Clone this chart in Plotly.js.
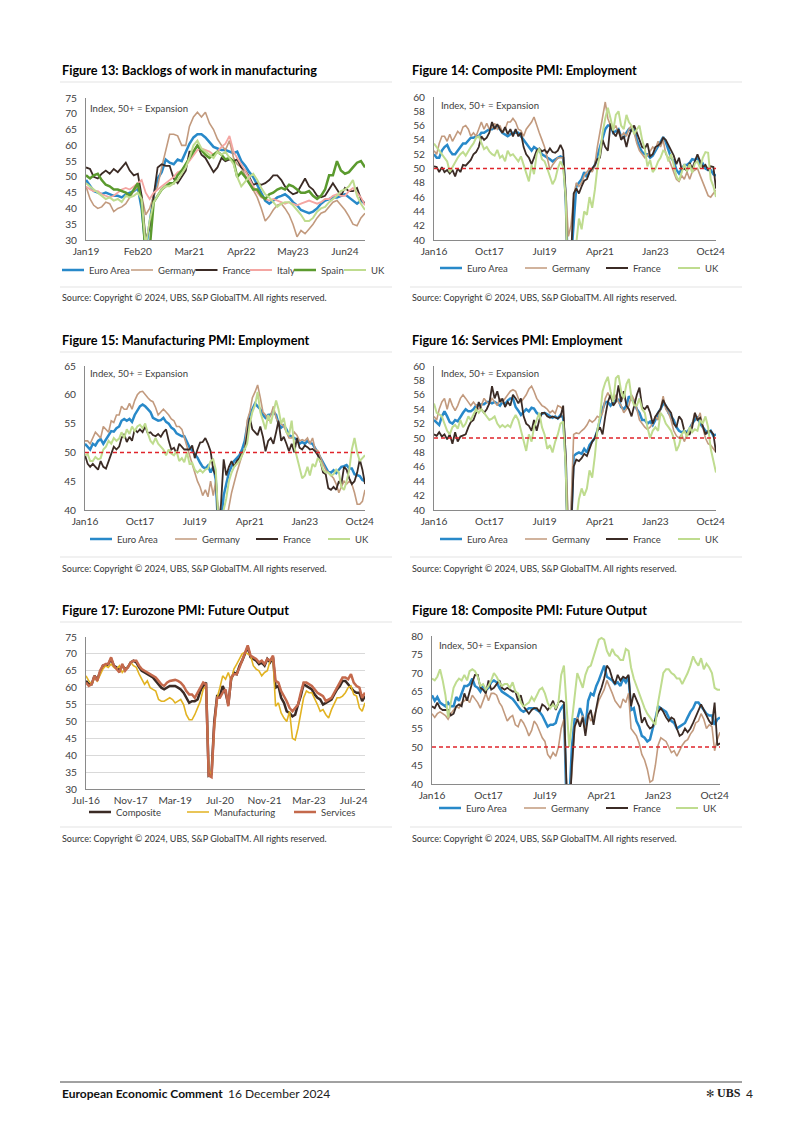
<!DOCTYPE html>
<html><head><meta charset="utf-8">
<script src="https://cdn.plot.ly/plotly-3.0.1.min.js"></script>
<style>html,body{margin:0;padding:0;background:#fff;}#page{width:802px;height:1134px;}</style>
</head><body><div id="page"></div>
<script>
// ---------------- DATA ----------------
// Figure 13: Backlogs of work in manufacturing (monthly from Jan 2019)
const fig13Start = [2019, 1];
const fig13TickDates = ['2019-01-01','2020-02-01','2021-03-01','2022-04-01','2023-05-01','2024-06-01'];
const fig13TickText = ['Jan19','Feb20','Mar21','Apr22','May23','Jun24'];
const bl_EA = [49,47,45.5,45,44.5,45,44.5,44,44,43.5,44.5,45,
  45.5,46.5,40,27,35,44,49.5,51.5,55.5,54.5,54,55.5,
  55,58,60.5,62.5,63.5,63.5,62.5,61,59.5,59,58.5,58.5,
  58,57.5,58,55,53.5,51.5,50,47.5,45,42.5,41.5,42.5,
  43.5,44,44.5,43.5,42,41,39.5,39,38.5,39,40,41.5,
  42.5,43,43.5,43.5,44,44.5,43.5,42.5,41.5,42.5,41.5];
const bl_DE = [47,43,41,40,40.5,42,41.5,39,40,40.5,41.5,43.5,
  45.5,47,44,38,40,44,47,53,58,63.5,63.5,63,
  60,60,66,69,70.5,69,70.5,67,65,62,60,58.5,
  61.5,56,54,53,50.5,48,46,43.5,40,36,37.5,39.5,
  41,41.5,40,38,35,31,33,32,33.5,35,37,38.5,
  39,40.5,42,42.5,41,39.5,37.5,35,34.5,37,38.5];
const bl_FR = [53,52.5,50,49.5,51,52,51,52.5,51.5,53,54.5,52,
  50.5,51,44,30,34,44,53,54,53.5,53.5,49.5,48,
  50,52,58,58,60,57,56,53.5,51.5,53,56,55,
  55.5,55,55.5,53,52,50,47.5,48,47.5,48,49,50.5,
  50.5,49,47,45.5,44.5,45,47,49.5,47,46,44,43.5,
  44,46,48,46,44,46.5,45.5,45.5,46.5,43,41.5];
const bl_IT = [47,46,45.5,45.5,44.5,44,43.5,44,45,46,46.5,46,
  47,48,49,45,43,45,46,47,48,49,50,51.5,
  52,53.5,55,57,58.5,59,58.5,58,57,58,59.5,60.5,
  63,58,56,54,52,49.5,47,45,43.5,43,42.5,43,
  42.5,42,41.5,42,41.5,41,41.5,42,42.5,42,41.5,42,
  43,43,44,44.5,44,44,45.5,46.5,45,43.5,41];
const bl_ES = [50.5,49.5,50.5,51,49,47.5,47,46,46,45.5,45,44,
  46,48,42,25,27,42,44,46,47,48,48,50.5,
  52,54,56,58,60,58.5,57,56,57,58,57,55.5,
  56,55,50,51.5,50,48,46,46,44,43,44.5,45,
  46,46.5,46,47.5,47,46,45,45,45.5,44,43,44,
  46,50.5,50.5,55,52,51,51.5,53,54.5,55,53];
const bl_UK = [48,47,46,45,44,43,43.5,42.5,43,42,44,43.5,
  44,45,43,28,36,42,44,46,47,47,48,49,
  51,53,56,60,61.5,59,58,57,56,58,57,58,
  56,54,50,47,48.5,50,51,49,46.5,44.5,43.5,42,
  40.5,41.5,42,42,41,39.5,38,36,36,37,39,40,
  40.5,42,43,44,45.5,46,47,49,44,41.5,39.5];

// Common x ticks for Figures 14, 15, 16, 18 (monthly from Jan 2016)
const empStart = [2016, 1];
const empTickDates = ['2016-01-01','2017-10-01','2019-07-01','2021-04-01','2023-01-01','2024-10-01'];
const empTickText = ['Jan16','Oct17','Jul19','Apr21','Jan23','Oct24'];

// Figure 14: Composite PMI: Employment
const ce_EA = [52,51.5,51.5,52.5,53,53.3,52.5,52,52,52.5,53,53.5,
  53.5,54,54.3,54.3,54.5,54.5,55,55,55.3,55.5,55.5,55.8,
  55.8,55.5,55,54.8,54.5,54.8,55,55,55,54.5,54,53.5,
  53,52.5,53,52.7,52.5,52,51.8,51.5,51.3,51,51.3,51.5,
  51.7,51.5,46,33,37,43,47.5,48,48.5,49.5,48.8,49.6,
  49.8,50.5,51.7,53,54,55.5,56,56,55,55.2,55.5,54.5,
  54.3,55,55.5,55.3,55.5,54,53,52.3,52,52,51.5,51.8,
  52.5,53.2,53.8,54.4,53.7,52.7,51.5,51,49.8,49.3,50,50.5,
  50.5,50.8,51.3,51.2,51.5,50.5,50.7,50,49.8,49.8,49.2,49];
const ce_DE = [52.5,52,53.5,54.5,54.5,53.8,54.8,53.8,54.5,55.2,54.8,55.8,
  56,55.5,54.5,55,54.5,55.5,56.5,55.5,56.3,55.5,55.7,56.3,
  55.5,56,55,55.5,56.5,56.5,57,56.5,55.5,55.3,54.5,55.5,
  56,56.5,57.2,56,55,54,53,51.5,49.8,50.5,51,51.5,
  51.5,51.5,47,40.5,42,46,48,47.5,48,49,49.5,50,
  49.5,50.5,53,55,57,59.3,57,56,55.5,56,55,54.5,
  55,54.5,55.5,56,55,53.5,52.5,52,51.5,51.8,52.5,53,
  52.7,53.8,53,54,52,51.5,50.5,49.5,48.5,48.2,49,48.5,
  49.5,48.5,49.5,49.8,50,49,48,47,46.2,46,46.5,47];
const ce_FR = [50.3,50.2,49.5,50.2,49.5,49.8,49.3,49.8,48.9,50,49.5,50.5,
  50.4,50.8,51.2,52,52.3,53,54.5,54,54.3,55,56.5,55.5,
  56.2,55.5,55,55.8,54.8,55.5,54.5,55.5,54.5,55,53,52,
  51.5,50.6,51.5,52.5,52.8,52.4,52.6,52.2,52.8,52.3,52.2,52.5,
  53.3,52.5,46,30,37,46.5,47.2,46.5,47.5,48.3,48.5,49.5,
  50,50.5,51.3,51.5,54,53,52.5,56.3,55,54.5,55.5,54,
  54.5,53,54.5,55.5,56,55,54.2,53,52.8,53.5,51.7,52,
  53,53.2,53.5,54.3,54,53.3,52.5,51.8,50.6,51.5,49.8,50,
  49.7,50.8,50,51,52,51,50.2,50.5,49.8,50.3,50.2,47.2];
const ce_UK = [53.5,53,52.5,52,51.5,51,49.5,50.2,51,51.5,52,52.3,
  51.8,52.5,53,53.5,54.3,54.5,53.7,52.7,53,52.4,52,51.8,
  52.6,51.5,51.8,51,52.5,51.8,52,51.5,51,51.7,50.5,49.5,
  48.2,50.5,49.2,52,52.8,51.3,51,50,49,47.8,48.5,50,
  51,50.2,46,30,33,37,39.5,43,41.5,44,43.5,46,
  44.5,47,50,52,55,57,58.5,57,55.3,57.5,58,56,
  55.5,57.5,56.5,56,54.8,55.5,56,54,52.7,50.3,51.2,49.5,
  50,51,51.5,52.5,52.3,51,52,50.5,48.9,48.3,49.5,50.6,
  49.6,50.6,49.4,50.7,51,50,51.5,52.3,52.2,48.5,47.5,46];

// Figure 15: Manufacturing PMI: Employment
const me_EA = [51.5,51,50.5,51.5,51.2,52,52.3,51.5,52.2,52.8,53.7,53.6,
  54.2,54.5,55.5,55.8,55.5,55.8,55.3,56.5,57.3,58,58.3,58,
  57.5,57,56,55.8,55.5,55.6,56,55.3,55,54.3,54,53.3,
  53,52.8,52.8,51.7,50.9,50.3,49.8,49.1,48.2,47.5,47.2,47.7,
  46.5,47.5,45.3,36,38,42.5,44.5,46.5,47.6,48.5,49,49.5,
  50.5,52,54.5,56.5,57.5,58.5,58,57.5,56.5,56,56.5,56.6,
  57,56.5,55,54.3,54.7,54,53,52.8,52.5,52.2,51.5,51.8,
  51.5,52,51.6,51.5,50.6,49.9,49.1,48.2,47.4,46.6,46.5,46.9,
  46.4,47,47.5,47.6,47.8,47.2,47.2,46.2,46,45.9,45.2,45];
const me_DE = [52,52,51.5,52.5,53.5,53,52.5,54.5,54,53.5,55.5,55.2,
  56.5,56.5,58,57.5,57.5,58.5,57.5,59,60,60.5,60.6,60,
  59.5,59,58.8,57.8,56.5,57,57.5,57,56.5,55.8,55.5,54.5,
  54.5,54,52.5,51,49.5,48,46.5,45,44,42.5,43.5,42.3,
  45,42.5,45,37,34,35,38,40.5,43,45,46.5,48,
  49.5,50.5,55.5,57,59.5,60.5,61.7,59.5,57,56.5,55.5,56.5,
  58,56,55,55,54.5,53.5,52.5,52.5,53.5,53,52,52.2,
  52,52.5,51.5,52.5,50.5,50.3,49,48,47,46.5,46,45.5,
  44.5,43,44,45,44.5,45,44.5,43,41,41,41.5,43.5];
const me_FR = [49.5,48,47.5,48,47.5,47,48.5,47.5,47.2,48.5,49.5,51,
  50.5,51,52.5,53.2,51.8,52.7,52,54,53.5,54,53.5,54.5,
  53.3,53.5,53,52.8,53.2,52.7,53.5,54,52,50.5,50.8,49.8,
  51.5,51,50.5,50.5,50.5,51.2,49,50.5,51.7,51.8,52.5,51.5,
  50.2,47,46,37,41,48.8,46,47.5,48.5,47.5,48.5,49,
  50,50.5,53,56,54,53.5,53,54.5,52.7,50.2,52,52.5,
  51.5,53.5,55.5,52,52.7,51.5,50.2,51.5,50,52.5,50.8,50.5,
  51.2,50.9,50.5,50.6,50.2,49.5,48.5,46.5,46.2,43.8,43.5,44,
  43.5,45,44.5,47.5,47,45.5,44.5,45,46.5,48.8,47,44.5];
const me_UK = [49.5,49.7,48.5,48.5,49.2,48.8,49,50.5,51,52,51.5,52.5,
  52,52.4,53.5,52.5,54,53.2,54.5,53.7,54.5,54.8,54.2,55,
  53.3,52,51.5,52.5,51.5,51,50.5,49.5,50.5,49.8,49.5,50.2,
  48.5,49,48.3,50,48,48.2,47,46.5,47,46.5,47,47.2,
  48.5,48.8,47,38,37,40,42,45,46.5,47.5,48,48.5,
  49.5,50.5,51.5,55,57,58.2,60.5,57,55.5,54,56.5,55,
  57,59,57.5,55,56,53.5,53,55.5,51,49,47,45.5,
  46,47.5,46,48,47.5,49,48.5,47,46.5,46.5,46,46.2,
  47,46.5,44,43.5,45,47,50.5,52.5,50,48.5,49,49.5];

// Figure 16: Services PMI: Employment
const se_EA = [52.5,52.2,51.8,53,53.7,53,52.2,52,52.5,52.3,53,53.5,
  54,53.7,53.7,54,54.5,54.5,54.7,54.7,55,55,54.8,55,
  54.8,54.5,55,54.7,55.2,55.5,55.5,54.3,53.8,53.2,53.6,54,
  53.7,54.2,54.1,53.5,53.2,53.3,53.5,53.3,53,52.8,53,52.7,
  53.2,52.8,47,33,37,47.5,47.8,48,47.8,48.5,48,49,
  49.5,50,51,52.5,54,55,55,54.5,55,55.2,55.3,54.3,
  54,54.5,55.8,55.4,55,54,53.5,52.5,52.5,52,52.3,51.8,
  52.5,53.5,54,54.8,54.5,53.5,53,52.5,51.5,51,50.8,51,
  50.8,51.3,52,52.5,53,52,51.5,51,50.7,51,50.3,50.5];
const se_DE = [53,52.5,54,55,55.5,54,55.5,54.5,53.8,54.5,55.5,56,
  55.5,55,54.5,55,54.5,54,54.5,55.5,55,54.8,55.5,55,
  54.5,55.5,55,55.5,56,56.5,56.7,56.5,55.5,55,55.5,56,
  56.8,57.2,56.5,55.5,55,54.5,54.3,54,53.5,53.8,53.4,54.5,
  54.3,54,48,38,40,50.5,50.7,50.6,51,51.3,51.8,52.5,
  52.2,52.5,53,52.8,53.5,55.5,56.3,55.5,55.2,56,55,54.5,
  53.5,54,54.5,56,55.3,54,52.5,52,51.5,51.2,51.5,52,
  53,52.5,54,55.8,54,53.5,52.5,51,50.3,50,50.5,49.5,
  50.5,51,52,53.5,52.5,53.5,51.5,50,49.2,49,48.5,48];
const se_FR = [50.5,50.3,50.8,50.2,50.5,49.8,50.5,49.2,50.8,49.5,50.2,50.3,
  50.5,51.5,52.2,52.5,53.5,55,54,53.5,54,54.8,57.2,55.5,
  56.5,55,55.5,54.3,55,54.5,56,55.5,54.8,55.5,53,52,
  51.7,51,52.5,51,52.5,53.5,53.5,53,52.8,53,52.8,52.7,
  53,54.5,47,30,37,46,47,46.8,47.2,47.8,47.5,48.5,
  49.5,50,51,51.5,50.5,53,55,56,54.5,55,57.3,55,
  56.5,54.5,54,53,54.5,56,57,54.3,54,54.5,53.5,52,
  53,53.5,54,55.3,54.5,54,53.5,52,51.5,53,52.5,51,
  50.5,50.5,51.5,53.5,52.5,52.8,51.5,50.5,51,51,50.5,48];
const se_UK = [54.8,53.5,53.3,53,52,51,50.5,51.5,51.8,51.3,52.5,51.5,
  52,53,52.5,53.3,54,53.5,54,53.5,53,52.5,52.7,53,
  52,51.5,51.8,51.5,51.8,51.5,52.5,53.2,52.5,51,49.5,48.2,
  50.5,49.5,51.5,52.5,53.5,51.5,50.5,48.5,49,48,49.5,50.5,
  52,52.3,46,32,34,36,38.5,41.5,43,42,43,45.5,
  44.5,47.5,51,53,56.5,57.7,58.5,56.5,55,58.3,58.7,56.5,
  55.5,57.5,58.2,55.5,54.5,54.5,55.5,54,53.5,51.5,50,51,
  51.5,51,53.5,53,52,51.5,51,50,48.2,49,50.5,51,
  50.2,51.5,50.8,51.2,51,52.5,52,53,51.5,48.5,47,45.2];

// Figure 17: Eurozone PMI: Future Output (monthly from Jul 2016)
const fig17Start = [2016, 7];
const fig17TickDates = ['2016-07-01','2017-11-01','2019-03-01','2020-07-01','2021-11-01','2023-03-01','2024-07-01'];
const fig17TickText = ['Jul-16','Nov-17','Mar-19','Jul-20','Nov-21','Mar-23','Jul-24'];
const fo_Comp = [62,61,61,63.5,62.5,64.5,
  66.5,66.5,67,68.5,66.5,66,65,66.5,65.5,66,67.5,68,
  67.5,66,65,64.5,64,63.5,63,62,61,60,59.5,60,
  60.5,60.5,60.5,60,59.5,58.5,57,55.5,56,56,56.5,59,
  60.5,61.5,34,34.5,50,57.5,57.5,60.5,58.5,55,62.5,64.5,
  64,66.5,68,70,72,69,68.5,68,67,67.5,66.5,68.5,
  67.5,69,60,60.5,57,55.5,53,52.5,51.5,52,55,57.5,
  61,60.5,60,59.5,58,57,56.5,55,55.5,56,56.5,58,
  59.5,60.5,62,62,61,60,59,58.5,58.5,56,57.5];
const fo_Manu = [63.5,62,61,63,62,64,
  65.5,66.5,66,67,66,65.5,66.5,64.5,65.5,66,67.5,66.5,
  66,64,62.5,61,62,60,59.5,59,56.5,56,56,56.5,
  57,56.5,55.5,56,56.5,55,52,50.5,50.5,52,54,56,
  59.5,60.5,36,34,48,57,60,63.5,62.5,64.5,62,65.5,
  67,68.5,70,70.5,70,69.5,66.5,65.5,65,63.5,64.5,65,
  68,68.5,54.5,55.5,52.5,51,50,53,45,44.5,48,52.5,
  57,59,58.5,58.5,57,55,53,53.5,52,51,53.5,55,
  57,57,57.5,58.5,60,60.5,58,57.5,54,53,55.5];
const fo_Serv = [61.5,60.5,61,63.5,62,65,
  66.5,67,67,69,66.5,65.5,64.5,67,65,66,67.5,68,
  68,66.5,65.5,65,64.5,64,63.5,63,62,61,60.5,61.5,
  62,62.2,62.3,62,61.5,60.5,59,58,58,57,58.5,60,
  61.5,61,34,33.5,49,57,57,58.5,59.5,54.5,63,64,
  64,66,68,70.5,72.5,69.5,69,68.5,67.5,68,67,68.5,
  68,69.5,62,61.5,59,57.5,56,54,53,54,55,58.5,
  61.5,61.5,61,60.5,59.5,58.5,58,57.5,56,56.5,57,58.5,
  60,61.5,63,63,62.5,64,61.5,60.5,60,57,58.5];

// Figure 18: Composite PMI: Future Output
const cf_EA = [64,62.5,63.5,62,61.5,61,62,61,61,63.5,62.5,64.5,
  66.5,66.5,67,68.5,66.5,66,65,66.5,65.5,66,67.5,68,
  67.5,66,65,64.5,64,63.5,63,62,61,60,59.5,60,
  60.5,60.5,60.5,60,59.5,58.5,57,55.5,56,56,56.5,59,
  60.5,61.5,34,34.5,50,57.5,57.5,60.5,58.5,55,62.5,64.5,
  64,66.5,68,70,72,69,68.5,68,67,67.5,66.5,68.5,
  67.5,69,60,60.5,57,55.5,53,52.5,51.5,52,55,57.5,
  61,60.5,60,59.5,58,57,56.5,55,55.5,56,56.5,58,
  59.5,60.5,62,62,61,60,59,58.5,58.5,56,57.5,58];
const cf_DE = [59,58,59,59.5,59,58.5,57.5,59,60,61,60.5,62,
  62.5,63,62,64,63,62,60.5,62.5,64.5,62.5,64.5,64.5,
  64,62,61,59,57,58,58.5,56,55.5,57.5,56.5,55,
  53,54.5,57,56,54,52.5,51.5,48,47,48.5,47.5,50,
  55,57.5,40,35,43,55,58,56,58.5,54,59,57,
  58,60,62.5,64,65.5,68,66,64.5,62.5,61.5,60.5,63,
  62,64.5,55,54,53,51,48,46.5,44,40.5,41,45,
  50.5,52.5,52,51.5,50,48.5,49,47.5,49,50.5,51.5,52,
  53.5,54.5,56.5,57,59,57.5,55,56,55.5,49,52,54];
const cf_FR = [61,60.5,62,60.5,60,60,60,58.5,59,61,61.5,61,
  64.5,62.5,65,67.5,69.5,69.5,66,65.5,64.5,68,65.5,66,
  67,68,66,65.5,66,65.5,65,65,62.5,64,61,60,
  59,60,60.5,60.5,59.5,61.5,61,60,61,62.5,60,62,
  62.5,62,40,30,45,55.5,57.5,55.5,58,53,58.5,60,
  56,60.5,64,66,68.5,72,71,68.5,67,69.5,68,69,
  68.5,69.5,61,64.5,62.5,61,56.5,58,56,55,55.5,57.5,
  59.5,60.5,59.5,58,57,58,57.5,55,53,53.5,55,54,
  55,56.5,58,60,61.5,60,58.5,57,56,62,50.5,51];
const cf_UK = [68.5,68,69,71,68,64,58,62,66,67.5,68.5,68,
  69.5,68,70.5,71,70.5,69,66.5,67,65.5,66.5,68,70,
  69,67.5,66.5,67,67,66,67.5,65,64.5,62,61,61.5,
  62,63.5,62.5,64,65.5,66,64.5,62,60.5,61.5,60.5,62,
  69.5,72,60,50,57,64,70,68,66,69.5,71.5,72,
  74.5,77,79,79.5,79,76,74.5,76.5,75,74.5,73.5,73.5,
  76.5,76,71.5,68.5,66.5,64.5,62,60.5,59,58,57,56,
  62,66.5,70,71,71,70,69.5,68.5,68.5,67,68.5,70,
  72,74.5,73,72,74,71,72.5,71.5,70,66,65.5,65.5];

// ---------------- STYLE ----------------
const F = 'Lato, "Noto Sans", sans-serif';
const TXT = '#404040';
const AXC = '#8a8a8a';
const C = {ea:'#2889C9', de:'#C29A7E', fr:'#3B2B25', it:'#F4A6A2', es:'#5B9A2E', uk:'#BFDC8F',
           comp:'#3B2B25', manu:'#E2B322', serv:'#C4694C', red:'#E0242B'};
const W = 802, H = 1134;
const P = x => x / W;
const Q = y => 1 - y / H;
const TICK_SIZE = 10.2, LEG_SIZE = 9.5, NOTE_SIZE = 9.6, TITLE_SIZE = 12.7, SRC_SIZE = 9;

function months(start, n) {
  const out = [];
  for (let i = 0; i < n; i++) {
    const t = (start[1] - 1) + i;
    const yy = start[0] + Math.floor(t / 12);
    const mm = (t % 12) + 1;
    out.push(yy + '-' + String(mm).padStart(2, '0') + '-01');
  }
  return out;
}

const data = [];
const shapes = [];
const annotations = [];
const layout = {
  width: W, height: H, margin: {l:0, r:0, t:0, b:0},
  paper_bgcolor: '#ffffff', plot_bgcolor: 'rgba(0,0,0,0)',
  font: {family: F, color: TXT}, showlegend: true
};
let legendN = 0;

function addLegend(textX, y) {
  legendN++;
  const id = legendN === 1 ? 'legend' : 'legend' + legendN;
  layout[id] = {
    x: P(textX - 40), xanchor: 'left', y: Q(y), yanchor: 'middle',
    orientation: 'h', bgcolor: 'rgba(0,0,0,0)', borderwidth: 0,
    font: {family: F, size: LEG_SIZE, color: TXT}, itemwidth: 30,
    itemclick: false, itemdoubleclick: false
  };
  return id;
}

function chart(k, cfg) {
  const sx = k === 1 ? '' : String(k);
  let maxLen = 0;
  cfg.series.forEach(s => { maxLen = Math.max(maxLen, s.y.length); });
  const xs = months(cfg.start, maxLen);
  layout['xaxis' + sx] = {
    domain: [P(cfg.l), P(cfg.r)], anchor: 'y' + sx, type: 'date',
    range: [xs[0], xs[xs.length - 1]], tickmode: 'array',
    tickvals: cfg.tickDates, ticktext: cfg.tickText,
    showgrid: false, zeroline: false, showline: true, linecolor: AXC, linewidth: 1,
    ticks: '', ticklabelstandoff: 2,
    tickfont: {family: F, size: TICK_SIZE, color: TXT}, fixedrange: true
  };
  layout['yaxis' + sx] = {
    domain: [Q(cfg.b), Q(cfg.t)], anchor: 'x' + sx,
    range: cfg.yRange, tickmode: 'linear', tick0: cfg.yRange[0], dtick: cfg.dtick,
    showgrid: !!cfg.grid, gridcolor: '#d9d9d9', gridwidth: 1,
    zeroline: false, showline: true, linecolor: AXC, linewidth: 1,
    ticks: '', ticklabelstandoff: 6,
    tickfont: {family: F, size: TICK_SIZE, color: TXT}, fixedrange: true
  };
  cfg.series.forEach((s, i) => {
    const lid = addLegend(cfg.legendX[i], cfg.legendY);
    data.push({
      type: 'scatter', mode: 'lines', name: s.name,
      x: months(cfg.start, s.y.length), y: s.y,
      xaxis: 'x' + sx, yaxis: 'y' + sx,
      line: {color: s.color, width: s.width},
      showlegend: false, hoverinfo: 'skip'
    });
    // legend key (short line sample, no data)
    data.push({
      type: 'scatter', mode: 'lines', name: s.name, x: [null], y: [null],
      xaxis: 'x' + sx, yaxis: 'y' + sx,
      line: {color: s.color, width: s.width, dash: '0px,8px,22px,200px'},
      showlegend: true, legend: lid, hoverinfo: 'skip'
    });
  });
  if (cfg.refLine) {
    shapes.push({type: 'line', xref: 'x' + sx + ' domain', x0: 0, x1: 1,
      yref: 'y' + sx, y0: 50, y1: 50, line: {color: C.red, width: 1.5, dash: '4px,3px'}});
  }
  if (cfg.note) {
    annotations.push({xref: 'paper', yref: 'paper', x: P(cfg.note[0]), y: Q(cfg.note[1]),
      xanchor: 'left', yanchor: 'middle', showarrow: false,
      text: 'Index, 50+ = Expansion', font: {family: F, size: NOTE_SIZE, color: TXT}});
  }
  annotations.push({xref: 'paper', yref: 'paper', x: P(cfg.colX), y: Q(cfg.titleY),
    xanchor: 'left', yanchor: 'middle', showarrow: false,
    text: '<b>' + cfg.title + '</b>', font: {family: F, size: TITLE_SIZE, color: '#000'}});
  shapes.push({type: 'line', xref: 'paper', yref: 'paper', x0: P(cfg.colX), x1: P(cfg.colX + 332),
    y0: Q(cfg.titleY + 12), y1: Q(cfg.titleY + 12), line: {color: '#e3e3e3', width: 1}});
  shapes.push({type: 'line', xref: 'paper', yref: 'paper', x0: P(cfg.colX), x1: P(cfg.colX + 332),
    y0: Q(cfg.titleY + 217), y1: Q(cfg.titleY + 217), line: {color: '#e3e3e3', width: 1}});
  annotations.push({xref: 'paper', yref: 'paper', x: P(cfg.colX), y: Q(cfg.titleY + 228),
    xanchor: 'left', yanchor: 'middle', showarrow: false,
    text: 'Source: Copyright © 2024, UBS, S&amp;P GlobalTM. All rights reserved.',
    font: {family: F, size: SRC_SIZE, color: '#333'}});
}

chart(1, {
  title: 'Figure 13: Backlogs of work in manufacturing', colX: 60, titleY: 70,
  l: 86, r: 365, t: 98, b: 240, yRange: [30, 75], dtick: 5,
  start: fig13Start, tickDates: fig13TickDates, tickText: fig13TickText,
  note: [88, 108], legendY: 270,
  legendX: [89, 158, 222.5, 277, 321, 371],
  series: [
    {name: 'Euro Area', y: bl_EA, color: C.ea, width: 2.5},
    {name: 'Germany', y: bl_DE, color: C.de, width: 1.6},
    {name: 'France', y: bl_FR, color: C.fr, width: 1.8},
    {name: 'Italy', y: bl_IT, color: C.it, width: 1.8},
    {name: 'Spain', y: bl_ES, color: C.es, width: 2.5},
    {name: 'UK', y: bl_UK, color: C.uk, width: 2}
  ]
});
chart(2, {
  title: 'Figure 14: Composite PMI: Employment', colX: 410, titleY: 70,
  l: 434, r: 716, t: 97, b: 240, yRange: [40, 60], dtick: 2, refLine: true,
  start: empStart, tickDates: empTickDates, tickText: empTickText,
  note: [439, 106], legendY: 268,
  legendX: [467, 552, 633, 705],
  series: [
    {name: 'Euro Area', y: ce_EA, color: C.ea, width: 2.5},
    {name: 'Germany', y: ce_DE, color: C.de, width: 1.6},
    {name: 'France', y: ce_FR, color: C.fr, width: 1.8},
    {name: 'UK', y: ce_UK, color: C.uk, width: 2}
  ]
});
chart(3, {
  title: 'Figure 15: Manufacturing PMI: Employment', colX: 60, titleY: 340,
  l: 85, r: 365, t: 366, b: 510, yRange: [40, 65], dtick: 5, refLine: true,
  start: empStart, tickDates: empTickDates, tickText: empTickText,
  note: [88, 373], legendY: 539,
  legendX: [117, 202, 283, 355],
  series: [
    {name: 'Euro Area', y: me_EA, color: C.ea, width: 2.5},
    {name: 'Germany', y: me_DE, color: C.de, width: 1.6},
    {name: 'France', y: me_FR, color: C.fr, width: 1.8},
    {name: 'UK', y: me_UK, color: C.uk, width: 2}
  ]
});
chart(4, {
  title: 'Figure 16: Services PMI: Employment', colX: 410, titleY: 340,
  l: 434, r: 716, t: 366, b: 510, yRange: [40, 60], dtick: 2, refLine: true,
  start: empStart, tickDates: empTickDates, tickText: empTickText,
  note: [439, 373], legendY: 539,
  legendX: [467, 552, 633, 705],
  series: [
    {name: 'Euro Area', y: se_EA, color: C.ea, width: 2.5},
    {name: 'Germany', y: se_DE, color: C.de, width: 1.6},
    {name: 'France', y: se_FR, color: C.fr, width: 1.8},
    {name: 'UK', y: se_UK, color: C.uk, width: 2}
  ]
});
chart(5, {
  title: 'Figure 17: Eurozone PMI: Future Output', colX: 60, titleY: 610,
  l: 86, r: 365, t: 637, b: 789, yRange: [30, 75], dtick: 5, grid: true,
  start: fig17Start, tickDates: fig17TickDates, tickText: fig17TickText,
  legendY: 812,
  legendX: [116, 214, 321],
  series: [
    {name: 'Composite', y: fo_Comp, color: C.comp, width: 2.5},
    {name: 'Manufacturing', y: fo_Manu, color: C.manu, width: 1.6},
    {name: 'Services', y: fo_Serv, color: C.serv, width: 2.5}
  ]
});
chart(6, {
  title: 'Figure 18: Composite PMI: Future Output', colX: 410, titleY: 610,
  l: 432, r: 720, t: 636, b: 784, yRange: [40, 80], dtick: 5, refLine: true,
  start: empStart, tickDates: empTickDates, tickText: empTickText,
  note: [437, 645], legendY: 808,
  legendX: [466, 551, 633, 703],
  series: [
    {name: 'Euro Area', y: cf_EA, color: C.ea, width: 2.5},
    {name: 'Germany', y: cf_DE, color: C.de, width: 1.6},
    {name: 'France', y: cf_FR, color: C.fr, width: 1.8},
    {name: 'UK', y: cf_UK, color: C.uk, width: 2}
  ]
});

// footer
shapes.push({type: 'line', xref: 'paper', yref: 'paper', x0: P(60), x1: P(742), y0: Q(1082), y1: Q(1082),
  line: {color: '#444', width: 1}});
annotations.push({xref: 'paper', yref: 'paper', x: P(60), y: Q(1093), xanchor: 'left', yanchor: 'middle',
  showarrow: false, text: '<b>European Economic Comment</b>', font: {family: F, size: 12, color: '#111'}});
annotations.push({xref: 'paper', yref: 'paper', x: P(226), y: Q(1093), xanchor: 'left', yanchor: 'middle',
  showarrow: false, text: '16 December 2024', font: {family: F, size: 12, color: '#222'}});
annotations.push({xref: 'paper', yref: 'paper', x: P(704), y: Q(1093), xanchor: 'left', yanchor: 'middle',
  showarrow: false, text: '✻', font: {family: 'DejaVu Sans', size: 10, color: '#333'}});
annotations.push({xref: 'paper', yref: 'paper', x: P(715), y: Q(1093), xanchor: 'left', yanchor: 'middle',
  showarrow: false, text: '<b>UBS</b>', font: {family: '"Liberation Serif", serif', size: 12, color: '#222'}});
annotations.push({xref: 'paper', yref: 'paper', x: P(744), y: Q(1093), xanchor: 'left', yanchor: 'middle',
  showarrow: false, text: '4', font: {family: F, size: 12, color: '#222'}});

layout.shapes = shapes;
layout.annotations = annotations;

Plotly.newPlot('page', data, layout, {staticPlot: true, displayModeBar: false});
</script></body></html>
